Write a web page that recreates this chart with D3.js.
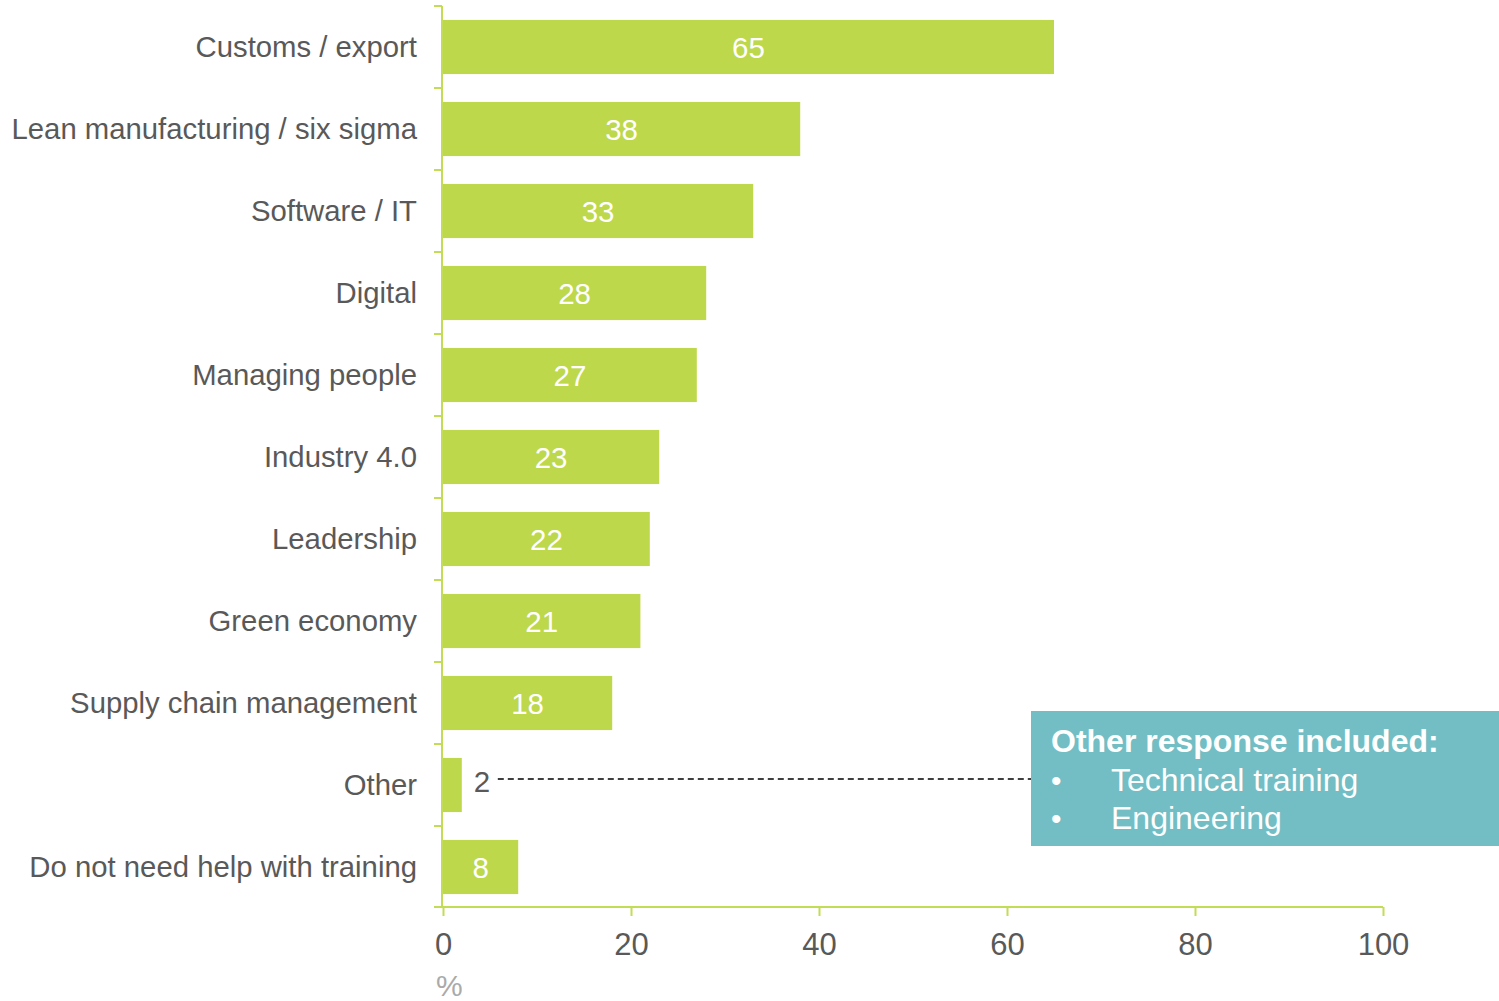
<!DOCTYPE html>
<html><head><meta charset="utf-8">
<script src="https://cdn.jsdelivr.net/npm/d3@7"></script>
<style>html,body{margin:0;padding:0;background:#fff;}svg{display:block;font-family:"Liberation Sans",Arial,sans-serif;}</style>
</head><body>
<svg id="c" width="1499" height="1001"></svg>
<script>
const categories = ["Customs / export","Lean manufacturing / six sigma","Software / IT","Digital","Managing people","Industry 4.0","Leadership","Green economy","Supply chain management","Other","Do not need help with training"];
const values = [65,38,33,28,27,23,22,21,18,2,8];
const xTicks = [0,20,40,60,80,100];
const axisUnit = "%";
const calloutTitle = "Other response included:";
const calloutItems = ["Technical training","Engineering"];

const svg = d3.select("#c");
const green = "#bdd84a";
const axisGreen = "#c3dc55";
const textCol = "#595959";

const x = d3.scaleLinear().domain([0,100]).range([443,1383]);
const y = d3.scaleBand().domain(categories).range([6,908]).paddingInner(0.34).paddingOuter(0.17);
const step = y.step();

// bars
svg.selectAll("rect.bar").data(values).join("rect")
  .attr("class","bar")
  .attr("x", x(0))
  .attr("y", (d,i)=>y(categories[i]))
  .attr("width", d=>x(d)-x(0))
  .attr("height", y.bandwidth())
  .attr("fill", green);

// value labels
svg.selectAll("text.val").data(values).join("text")
  .attr("class","val")
  .attr("x", d => d < 5 ? x(d)+12 : x(0)+(x(d)-x(0))/2)
  .attr("y", (d,i)=>y(categories[i])+y.bandwidth()/2 - (d < 5 ? 4 : 0))
  .attr("dy","0.36em")
  .attr("text-anchor", d => d < 5 ? "start" : "middle")
  .attr("font-size", 29.5)
  .attr("fill", d => d < 5 ? textCol : "#fff")
  .text(d=>d);

// y axis line + ticks at band boundaries
const y0 = 6, y1 = 908;
svg.append("line").attr("x1",442).attr("x2",442).attr("y1",y0).attr("y2",y1)
  .attr("stroke",axisGreen).attr("stroke-width",2);
const bounds = categories.map(c=>y(c)-step*0.17);
svg.selectAll("line.yt").data(bounds).join("line").attr("class","yt")
  .attr("x1",434).attr("x2",442).attr("y1",d=>d).attr("y2",d=>d)
  .attr("stroke",axisGreen).attr("stroke-width",2);

// category labels
svg.selectAll("text.cat").data(categories).join("text").attr("class","cat")
  .attr("x",417).attr("y",c=>y(c)+y.bandwidth()/2).attr("dy","0.33em")
  .attr("text-anchor","end").attr("font-size",29.3).attr("fill",textCol).text(c=>c);

// x axis
const xa = svg.append("g").attr("transform","translate(0,907)")
  .call(d3.axisBottom(x).tickValues(xTicks).tickSize(9).tickPadding(17).tickSizeOuter(0));
xa.select(".domain").remove();
xa.append("line").attr("x1",434).attr("x2",x(100)).attr("y1",0).attr("y2",0).attr("stroke",axisGreen).attr("stroke-width",2);
xa.selectAll(".tick line").attr("stroke",axisGreen).attr("stroke-width",2);
xa.selectAll(".tick text").attr("font-size",31).attr("fill",textCol).attr("font-family","Liberation Sans, Arial, sans-serif");

svg.append("text").attr("x",436).attr("y",996).attr("font-size",30).attr("fill","#aaaaaa").text(axisUnit);

// callout
const otherIdx = categories.indexOf("Other");
const ly = y("Other")+y.bandwidth()/2 - 6;
svg.append("line").attr("x1",x(values[otherIdx])+36).attr("x2",1031).attr("y1",ly).attr("y2",ly)
  .attr("stroke","#000").attr("stroke-width",1.5).attr("stroke-dasharray","6,4");
svg.append("rect").attr("x",1031).attr("y",711).attr("width",468).attr("height",135).attr("fill","#72bec4");
svg.append("text").attr("x",1051).attr("y",752).attr("font-size",32).attr("font-weight","bold").attr("fill","#fff").text(calloutTitle);
calloutItems.forEach((t,i)=>{
  const yy = 791 + i*38;
  svg.append("text").attr("x",1051).attr("y",yy).attr("font-size",30).attr("fill","#fff").text("\u2022");
  svg.append("text").attr("x",1111).attr("y",yy).attr("font-size",32).attr("fill","#fff").text(t);
});
</script>
</body></html>
